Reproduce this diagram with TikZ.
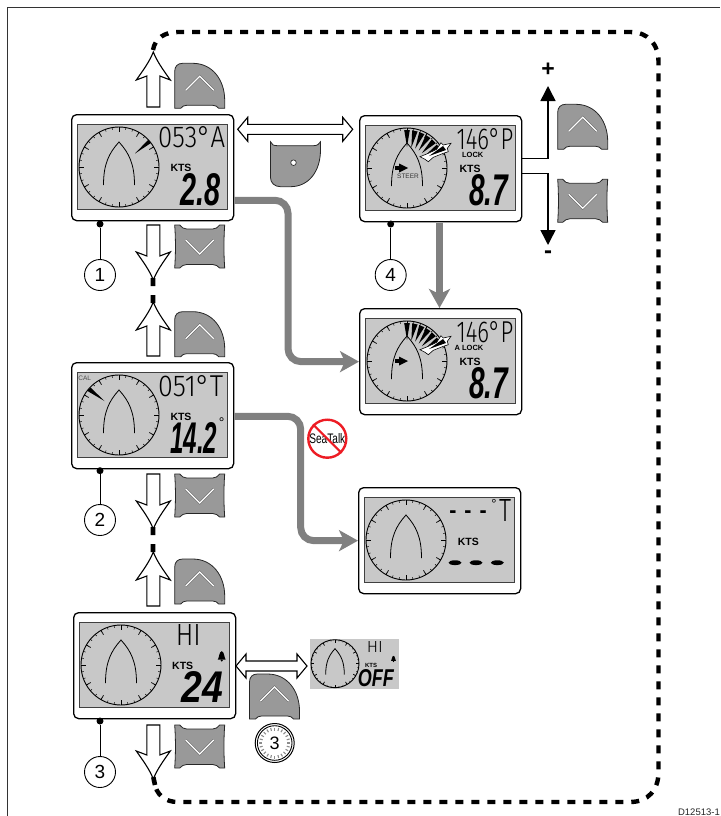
\documentclass[tikz,border=0pt]{standalone}
\usepackage{fontspec}
\setmainfont{Liberation Sans}
\newfontfamily\lcdthin{Fira Sans Light}
\usetikzlibrary{arrows.meta,calc}
\definecolor{lcdgrey}{HTML}{C8C8C8}
\definecolor{btngrey}{HTML}{999999}
\definecolor{flowgrey}{HTML}{808080}
\definecolor{signred}{HTML}{ED1C24}
\tikzset{
  x=1pt,y=-1pt,
  unitbox/.style={draw=black,line width=1.3pt,fill=white,rounded corners=5pt,minimum width=162pt,minimum height=106pt,inner sep=0pt,anchor=north west},
  lcdscreen/.style={draw=black!75,line width=0.9pt,fill=lcdgrey},
  chev/.style={line width=2.3pt,draw=black!60,line join=miter},
  chevin/.style={line width=1.2pt,draw=white,line join=miter},
  btn/.style={draw=black!85,line width=0.8pt,fill=btngrey},
  block/.style={draw=black,line width=1.1pt,fill=white,line join=miter},
  flow/.style={draw=flowgrey,line width=7pt,rounded corners=13pt,-{Stealth[length=19pt,width=21pt,inset=5pt]}},
  thick black/.style={draw=black,line width=1.5pt},
  leaderdot/.style={circle,fill=black,inner sep=0pt,minimum size=7pt},
  callout/.style={circle,draw=black,line width=0.9pt,fill=white,inner sep=0pt,minimum size=31pt,font=\fontsize{19}{19}\selectfont},
  reading/.style={inner sep=0pt,anchor=south west},
  kts/.style={inner sep=0pt,font=\fontsize{10.5}{10.5}\selectfont\bfseries},
  pics/dial/.style={code={
    \draw[black,line width=0.9pt] (48,53) circle[radius=40pt];
    \foreach \a in {0,10,...,350}{\draw[black,line width=0.5pt] ($(48,53)+(\a:40)$) -- ($(48,53)+(\a:37.8)$);}
    \foreach \a in {0,30,...,330}{\draw[black,line width=0.7pt] ($(48,53)+(\a:40)$) -- ($(48,53)+(\a:35)$);}
    \draw[black,line width=0.8pt] (32.5,71) .. controls (32.5,50) and (38,39) .. (48,28) .. controls (58,39) and (63.5,50) .. (63.5,71);
  }},
  pics/fan/.style={code={
    \foreach \a in {90,78,67,56,45,34}{
      \fill[black] ($(48,53)+(-\a-4.2:38)$) -- ($(48,53)+(-\a+4.2:38)$) -- ($(48,53)+(-\a:21)$) -- cycle;}
    \draw[black,line width=0.6pt,fill=white] (92,28.3) -- (84.3,30) -- (82,27.7) -- (77.7,34.3) -- (69.3,38.3) -- (61,41.7) -- (66,44.3) -- (69.3,46.7) -- (74.3,42.3) -- (84.3,38.3) -- (89.3,36.7) -- (88.3,33.3) -- cycle;
    \fill[black] (84,31) -- (87,35) -- (70,41) -- cycle;
    \fill[black] (36,51) rectangle (41,55);
    \fill[black] (40,48.5) -- (40,57.5) -- (49,53) -- cycle;
  }},
  pics/upbtn/.style={code={
    \draw[btn] (0,45) -- (0,8) .. controls (0,3) and (3,0) .. (8,0) -- (18,0) .. controls (38,0) and (50,17) .. (50,37) -- (50,45) -- (44,45) .. controls (42,43) and (41,42) .. (38,42) -- (12,42) .. controls (9,42) and (8,43) .. (6,45) -- cycle;
    \draw[chev] (11,27) -- (25,13) -- (39,27);
    \draw[chevin] (11,27) -- (25,13) -- (39,27);
  }},
  pics/downbtn/.style={code={
    \draw[btn] (0,0) -- (5,0) .. controls (7,2.5) and (9,4) .. (12,4) -- (38,4) .. controls (41,4) and (43,2.5) .. (45,0) -- (50,0) .. controls (49,14) and (49,29) .. (50,43) -- (45,43) .. controls (43,41) and (41,39.5) .. (38,39.5) -- (12,39.5) .. controls (9,39.5) and (7,41) .. (5,43) -- (0,43) .. controls (1,29) and (1,14) .. (0,0) -- cycle;
    \draw[chev] (11,15) -- (25,29) -- (39,15);
    \draw[chevin] (11,15) -- (25,29) -- (39,15);
  }},
  pics/selbtn/.style={code={
    \draw[btn] (0,0) .. controls (1,3) and (3,4) .. (7,4) -- (43,4) .. controls (47,4) and (49,2) .. (50,0) -- (50,8) .. controls (50,30) and (38,45) .. (20,45) -- (10,45) .. controls (4,45) and (0,41) .. (0,36) -- cycle;
    \draw[black!80,line width=0.7pt,fill=white] (23,21) circle[radius=2.8pt];
  }},
  pics/blockup/.style={code={
    \draw[block] (-6.5,#1) -- (-6.5,24) -- (-17,28) .. controls (-10,18) and (-4,10) .. (0,0) .. controls (4,10) and (10,18) .. (17,28) -- (6.5,24) -- (6.5,#1) -- cycle;
  }},
  pics/blockdown/.style={code={
    \draw[block] (-6.5,-#1) -- (-6.5,-24) -- (-17,-28) .. controls (-10,-18) and (-4,-10) .. (0,0) .. controls (4,-10) and (10,-18) .. (17,-28) -- (6.5,-24) -- (6.5,-#1) -- cycle;
  }},
  pics/twoway/.style={code={
    \draw[block] (0,0) -- (10,-12) -- (10,-5) -- (#1-10,-5) -- (#1-10,-12) -- (#1,0) -- (#1-10,12) -- (#1-10,5) -- (10,5) -- (10,12) -- cycle;
  }},
  pics/bell/.style={code={
    \fill[black] (-4,4) .. controls (-2.5,2.5) and (-2.8,-4) .. (0,-4.5) .. controls (2.8,-4) and (2.5,2.5) .. (4,4) -- cycle;
    \fill[black] (0,4.8) circle[radius=1.1pt];
  }}
}
\newcommand{\lcdunit}[3]{%
  \node[unitbox] (#1) at (#2,#3) {};
  \begin{scope}[shift={(#2,#3)}]
    \draw[lcdscreen] (6,10) rectangle (156.5,95);
    \pic {dial};
  \end{scope}}
\newcommand{\lcddash}{\scalebox{1}[2.5]{–}}
\begin{document}
\begin{tikzpicture}
\useasboundingbox (0,0) rectangle (720,816);
% frame
\coordinate (fa) at (7.5,816); \coordinate (fb) at (7.5,7.5); \coordinate (fc) at (720,7.5);
\draw[black!80,line width=1.5pt] (fa) -- (fb) -- (fc);

% dashed cycle
\coordinate (da) at (153,50); \coordinate (db) at (178,32); \coordinate (dc) at (630,32); \coordinate (dd) at (658.5,62);
\coordinate (de) at (658.5,772); \coordinate (df) at (630,802); \coordinate (dg) at (178,802); \coordinate (dh) at (154,781);
\draw[black,line width=4.4pt,dash pattern=on 8pt off 8pt]
  (da) .. controls (155,38) and (165,32) .. (db) -- (dc) .. controls (648,32) and (658.5,44) .. (dd) -- (de) .. controls (658.5,790) and (648,802) .. (df) -- (dg) .. controls (165,802) and (156,795) .. (dh);
\coordinate (m1a) at (153,278); \coordinate (m1b) at (153,286); \coordinate (m1c) at (153,295); \coordinate (m1d) at (153,303);
\coordinate (m2a) at (153,527); \coordinate (m2b) at (153,535); \coordinate (m2c) at (153,544); \coordinate (m2d) at (153,552);
\coordinate (m3a) at (153.3,777); \coordinate (m3b) at (155,785);
\draw[black,line width=4.6pt] (m1a) -- (m1b) (m1c) -- (m1d) (m2a) -- (m2b) (m2c) -- (m2d) (m3a) -- (m3b);

% displays
\lcdunit{u1}{71}{114}
\lcdunit{u2}{71}{362}
\lcdunit{u3}{73}{612}
\lcdunit{u4}{359}{115}
\lcdunit{u5}{359}{308}
\lcdunit{u6}{358}{487}
\pic at (359,115) {fan};
\pic at (359,308) {fan};

% needles
\fill[black] (135,153.5) -- (148.2,139.8) -- (151,143) -- cycle;
\fill[black] (104.5,401) -- (87.5,391) -- (90.5,387.5) -- cycle;

% unit 1 text
\node[reading] (r1a) at (158,148) {\resizebox{67pt}{21pt}{\lcdthin 053°A}};
\node[kts] (k1) at (181,168) {KTS};
\node[reading] (r1b) at (180.5,206) {\resizebox{40pt}{32pt}{\bfseries\itshape 2.8}};
% unit 2 text
\node[inner sep=0pt,font=\fontsize{6.5}{6.5}\selectfont,text=black!70] (cal) at (84.7,378) {CAL};
\node[reading] (r2a) at (158,397) {\resizebox{65pt}{21pt}{\lcdthin 051°T}};
\node[kts] (k2) at (181,416.7) {KTS};
\node[reading] (r2b) at (170,454) {\resizebox{47pt}{31pt}{\bfseries\itshape 14.2}};
\node[inner sep=0pt,font=\fontsize{14}{14}\selectfont] (r2c) at (221.7,423) {°};
% unit 3 text
\node[reading] (r3a) at (175.7,646) {\resizebox{25pt}{21pt}{\lcdthin HI}};
\pic at (221.7,655.7) {bell};
\node[kts] (k3) at (182.7,666) {KTS};
\node[reading] (r3b) at (181.5,703) {\resizebox{41.5pt}{31pt}{\bfseries\itshape 24}};
% unit 4 text
\node[reading] (r4a) at (456.5,150) {\resizebox{56.5pt}{21pt}{\lcdthin 146°P}};
\node[inner sep=0pt,font=\fontsize{7.5}{7.5}\selectfont\bfseries] (l4) at (472.7,155.3) {LOCK};
\node[inner sep=0pt,font=\fontsize{6.5}{6.5}\selectfont,text=black!80] (st) at (408,176) {STEER};
\node[kts] (k4) at (470,169) {KTS};
\node[reading] (r4b) at (469,206.5) {\resizebox{39pt}{31pt}{\bfseries\itshape 8.7}};
% unit 5 text
\node[reading] (r5a) at (456.5,343) {\resizebox{56.5pt}{21pt}{\lcdthin 146°P}};
\node[inner sep=0pt,font=\fontsize{7.5}{7.5}\selectfont\bfseries] (l5) at (469,348.3) {A LOCK};
\node[kts] (k5) at (470,362) {KTS};
\node[reading] (r5b) at (469,399.5) {\resizebox{39pt}{31pt}{\bfseries\itshape 8.7}};
% unit 6 text
\node[inner sep=0pt,anchor=base,font=\fontsize{11}{11}\selectfont\bfseries] (r6a) at (468,519) {\lcddash\hspace{9pt}\lcddash\hspace{9pt}\lcddash};
\node[inner sep=0pt,font=\fontsize{13}{13}\selectfont] (r6b) at (494,504) {°};
\node[reading] (r6c) at (499,522) {\resizebox{12pt}{22pt}{\lcdthin T}};
\node[kts] (k6) at (468.3,541.7) {KTS};
\fill[black] (455,562.7) ellipse[x radius=6.5pt,y radius=2.4pt];
\fill[black] (476,562.7) ellipse[x radius=6.5pt,y radius=2.4pt];
\fill[black] (497.3,562.7) ellipse[x radius=6.5pt,y radius=2.4pt];

% buttons
\pic at (174.7,63.3) {upbtn};
\pic at (174.7,225) {downbtn};
\pic at (174.7,311.7) {upbtn};
\pic at (174.7,474) {downbtn};
\pic at (174.7,559) {upbtn};
\pic at (174.7,725) {downbtn};
\pic at (270.5,141.7) {selbtn};
\pic at (557.7,104.3) {upbtn};
\pic at (557.7,179.3) {downbtn};
\pic at (249.5,674) {upbtn};

% block arrows
\pic at (153.3,52) {blockup=55};
\pic at (153.3,280) {blockdown=55};
\pic at (153.3,302) {blockup=54};
\pic at (153.3,529) {blockdown=55};
\pic at (153.3,552) {blockup=54};
\pic at (153.3,779) {blockdown=54};
\pic at (237.7,129.3) {twoway=115};
\pic at (236,666) {twoway=71};

% grey flows
\coordinate (g1a) at ($(u1.south east)+(0,-21)$);
\coordinate (g1x) at (288,280);
\draw[flow] (g1a) -| (g1x) |- (u5.west);
\coordinate (g2a) at ($(u2.south east)+(0,-53)$);
\coordinate (g2x) at (300.7,480);
\draw[flow] (g2a) -| (g2x) |- (u6.west);
\coordinate (g3a) at (439.5,222.5); \coordinate (g3b) at (439.5,308);
\draw[flow] (g3a) -- (g3b);

% no SeaTalk sign
\node[inner sep=0pt] (sea) at (327.3,438.7) {\resizebox{36pt}{10pt}{SeaTalk}};
\node[circle,draw=signred,line width=2.4pt,minimum size=38pt,inner sep=0pt] (nosign) at (327.3,438.7) {};
\draw[signred,line width=2.2pt] (nosign.135) -- (nosign.-45);

% black adjust arrows
\coordinate (p1) at ($(u4.south east)+(0,-64)$); \coordinate (p3) at (548,86);
\coordinate (q1) at ($(u4.south east)+(0,-49)$); \coordinate (q3) at (548,245);
\draw[thick black,-{Triangle[length=15pt,width=15pt]}] (p1) -| (p3);
\draw[thick black,-{Triangle[length=15pt,width=15pt]}] (q1) -| (q3);
\node[inner sep=0pt,font=\fontsize{23}{23}\selectfont\bfseries,anchor=base] (plus) at (548,76) {+};
\node[inner sep=0pt,font=\fontsize{24}{24}\selectfont\bfseries,anchor=base] (minus) at (548,258.5) {-};

% callouts
\node[leaderdot] (d1) at (100,224) {};
\node[callout] (n1) at (100,275) {1};
\draw[black,line width=0.9pt] (d1) -- (n1);
\node[leaderdot] (d2) at (100,470.7) {};
\node[callout] (n2) at (100,520) {2};
\draw[black,line width=0.9pt] (d2) -- (n2);
\node[leaderdot] (d3) at (100,721) {};
\node[callout] (n3) at (100,772) {3};
\draw[black,line width=0.9pt] (d3) -- (n3);
\node[leaderdot] (d4) at (390.7,224) {};
\node[callout] (n4) at (390.7,275) {4};
\draw[black,line width=0.9pt] (d4) -- (n4);

% alarm-off panel
\fill[lcdgrey] (310.3,639) rectangle (399,688.7);
\pic[scale=0.6] at (306.2,631.9) {dial};
\node[reading] (r7a) at (366.7,652.5) {\resizebox{16pt}{11pt}{\lcdthin HI}};
\node[inner sep=0pt,font=\fontsize{6}{6}\selectfont\bfseries] (k7) at (371,665) {KTS};
\node[reading] (r7b) at (357.7,687) {\resizebox{36pt}{17pt}{\bfseries\itshape OFF}};
\pic[scale=0.6] at (393.5,658.5) {bell};

% timer
\node[circle,draw=black,line width=1pt,fill=white,minimum size=39pt,inner sep=0pt] (timer) at (274.7,743) {};
\draw[black,line width=0.9pt] (timer) circle[radius=17.3pt];
\foreach \a in {0,15,...,345}{\draw[black!45,line width=1.1pt] ($(timer)+(\a:15.5)$) -- ($(timer)+(\a:12.5)$);}
\node[inner sep=0pt,font=\fontsize{18}{18}\selectfont] (tl) at (274.7,743) {3};

% reference code
\node[inner sep=0pt,anchor=base east,font=\fontsize{9.5}{9.5}\selectfont,text=black!85] (ref) at (720,815) {D12513-1};
\end{tikzpicture}
\end{document}
